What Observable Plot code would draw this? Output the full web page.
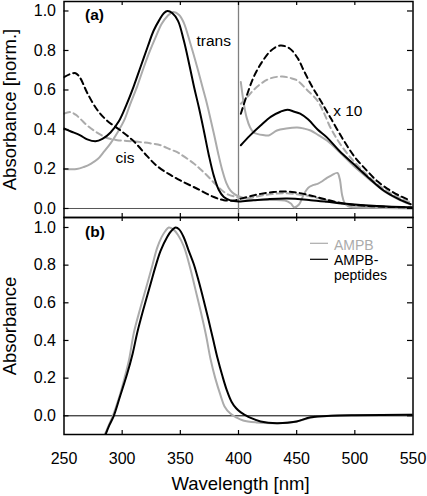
<!DOCTYPE html>
<html><head><meta charset="utf-8">
<script src="https://cdn.jsdelivr.net/npm/d3@7"></script>
<script src="https://cdn.jsdelivr.net/npm/@observablehq/plot@0.6"></script>
<style>
body{margin:0;background:#fff;}
#chart{position:relative;width:427px;height:496px;font-family:"Liberation Sans",Arial,Helvetica,sans-serif;}
#chart svg{position:absolute;left:0;overflow:visible;}
</style></head><body><div id="chart"></div>
<script>
// ---------- data ----------
const wlTicks = [250, 300, 350, 400, 450, 500, 550];
const wlInnerTicks = [300, 350, 400, 450, 500];
const absTicks = [0, 0.2, 0.4, 0.6, 0.8, 1.0];

// panel (a)
const aTransPeptide = [[250,0.405],[256,0.39],[264,0.37],[270,0.35],[277,0.34],[283,0.352],[290,0.385],[297,0.44],[304,0.53],[310,0.62],[316,0.72],[322,0.82],[327,0.90],[332,0.955],[336,0.99],[339,1.0],[343,0.99],[348,0.95],[353,0.85],[358,0.72],[362,0.61],[366,0.51],[370,0.40],[374.5,0.27],[378.8,0.165],[383,0.095],[387.4,0.058],[393,0.041],[400,0.036],[413,0.042],[425,0.047],[442,0.05],[462,0.042],[476,0.034],[490,0.025],[519,0.012],[550,0.005]];
const aTransAMPB = [[250,0.20],[261,0.20],[267,0.21],[273,0.226],[279,0.25],[284,0.285],[290,0.33],[296,0.385],[302,0.45],[307,0.53],[313,0.62],[318.6,0.715],[324,0.80],[329,0.87],[334,0.935],[339,0.975],[344,0.995],[349,0.98],[353,0.94],[358.7,0.834],[364.5,0.715],[368.8,0.62],[372,0.55],[375.5,0.465],[379,0.375],[382.5,0.28],[386,0.195],[389.5,0.13],[393,0.092],[396.5,0.073],[400,0.062],[410,0.046],[425,0.043],[440,0.04],[445,0.025],[448,0.006],[452,0.02],[456,0.07],[460,0.105],[464,0.118],[468,0.125],[472,0.138],[476,0.155],[480,0.168],[485,0.18],[487,0.15],[489,0.07],[491,0.03],[494,0.012],[500,0.006],[525,0.003],[550,0.0]];
const aCisPeptide = [[250,0.665],[255,0.68],[260,0.685],[264,0.66],[270,0.585],[278.5,0.50],[287,0.445],[298.6,0.395],[310,0.34],[321.5,0.265],[330,0.215],[340,0.175],[350,0.142],[364.5,0.10],[378.8,0.058],[387.4,0.042],[396,0.04],[402,0.05],[410,0.062],[419,0.074],[430,0.083],[439.5,0.086],[448,0.082],[456,0.074],[466,0.06],[476,0.044],[486,0.03],[496,0.02],[520,0.01],[550,0.005]];
const aCisAMPB = [[250,0.48],[255.6,0.488],[260,0.475],[264,0.454],[270,0.42],[275.6,0.395],[281,0.375],[287,0.357],[295.7,0.346],[304,0.342],[315.8,0.336],[324,0.33],[333,0.32],[341,0.30],[347.3,0.285],[354,0.26],[361.6,0.228],[367,0.20],[373,0.167],[381.7,0.114],[390,0.074],[398.7,0.057],[405,0.05],[412,0.056],[420,0.066],[430,0.074],[440,0.077],[450,0.072],[460,0.064],[470,0.05],[480,0.036],[496,0.018],[520,0.008],[550,0.004]];
// x10 magnified (> 400 nm)
const aTransPeptide10 = [[402,0.32],[410,0.37],[419,0.42],[428,0.465],[436,0.49],[442,0.5],[448,0.49],[453,0.48],[460,0.45],[468,0.40],[476,0.36],[487,0.29],[499,0.225],[512,0.155],[525,0.09],[537,0.05],[548,0.022]];
const aCisPeptide10 = [[402,0.48],[407,0.57],[413,0.665],[420,0.74],[428,0.80],[436,0.825],[444,0.81],[451,0.76],[456,0.70],[463,0.62],[470.5,0.547],[480,0.45],[490.5,0.344],[500,0.26],[510.6,0.19],[520,0.135],[530.7,0.09],[540,0.06],[548,0.04]];
const aCisAMPB10 = [[402,0.53],[407,0.56],[413,0.60],[420,0.635],[428,0.66],[437.6,0.668],[445,0.66],[450.5,0.648],[459,0.60],[467.7,0.547],[473,0.49],[479,0.41],[487,0.33],[496,0.26],[507,0.19],[519,0.125],[530,0.08],[540,0.05],[548,0.03]];
const aTransAMPB10 = [[402,0.64],[404.6,0.53],[407,0.46],[410,0.41],[413,0.385],[416,0.378],[421,0.372],[426,0.37],[433,0.395],[441,0.405],[450.5,0.41],[456,0.405],[462,0.395],[469,0.37],[476,0.344],[487,0.285],[499,0.215],[512,0.15],[525,0.088],[537,0.048],[548,0.02]];

// panel (b)
const bAMPB = [[285,-0.1],[288.5,-0.05],[292,0.0],[297,0.09],[302,0.2],[306,0.3],[310,0.44],[316,0.58],[321.5,0.70],[326,0.80],[330,0.89],[334,0.95],[337,0.98],[340,1.0],[344,0.99],[348,0.96],[353,0.90],[358.7,0.78],[363,0.67],[367.3,0.56],[372,0.43],[376,0.30],[380,0.20],[384.5,0.11],[388,0.05],[393,0.012],[398,-0.008],[404,-0.025],[415,-0.035],[433,-0.039],[450,-0.03],[462,-0.01],[480,0.0],[550,0.005]];
const bPeptides = [[285.7,-0.1],[289,-0.05],[292.8,0.0],[298,0.1],[304.3,0.223],[309,0.33],[313,0.442],[318,0.56],[324.4,0.70],[329,0.80],[333,0.876],[338.7,0.95],[342,0.98],[346,1.0],[349,0.99],[353,0.947],[357,0.88],[361.6,0.805],[366,0.71],[370,0.615],[374,0.515],[378,0.41],[382,0.305],[386,0.215],[390,0.135],[394,0.075],[398,0.04],[402,0.018],[406,0.003],[410,-0.01],[419,-0.03],[433,-0.039],[450,-0.03],[462,-0.008],[480,0.0],[500,0.003],[550,0.005]];

// annotations (data units)
const aLabels = [{text:"trans", wl:363.9, abs:0.825},{text:"cis", wl:294.3, abs:0.231},{text:"x 10", wl:481.4, abs:0.466}];
const legendLabels = [["AMPB"],["AMPB-","peptides"]];

// ---------- styles ----------
const GRAY = "#ababab", BLACK = "#000";
const seriesA = [
  {name:"aTransAMPB", data:aTransAMPB, color:GRAY, dash:null},
  {name:"aCisAMPB", data:aCisAMPB, color:GRAY, dash:"6,4"},
  {name:"aTransAMPB10", data:aTransAMPB10, color:GRAY, dash:null},
  {name:"aCisAMPB10", data:aCisAMPB10, color:GRAY, dash:"6,4"},
  {name:"aTransPeptide", data:aTransPeptide, color:BLACK, dash:null},
  {name:"aCisPeptide", data:aCisPeptide, color:BLACK, dash:"6,4"},
  {name:"aTransPeptide10", data:aTransPeptide10, color:BLACK, dash:null},
  {name:"aCisPeptide10", data:aCisPeptide10, color:BLACK, dash:"6,4"}
];
const seriesB = [
  {name:"bAMPB", data:bAMPB, color:GRAY, dash:null},
  {name:"bPeptides", data:bPeptides, color:BLACK, dash:null}
];
const legendColors = [GRAY, BLACK];

const W = 427, ML = 63.5, MR = 14.5;
const innerW = W - ML - MR;
const fontFamily = '"Liberation Sans", Arial, Helvetica, sans-serif';

function toRows(d){ return d.map(([wl, abs]) => ({wl, abs})); }
function lines(series){
  return series.map(s => Plot.line(toRows(s.data), {x:"wl", y:"abs", stroke:s.color, strokeWidth:2, strokeDasharray:s.dash, curve:"catmull-rom", clip:true}));
}
function tickMarks(innerH){
  return [
    Plot.tickX(wlInnerTicks, {x:d=>d, insetBottom: innerH-4, stroke:"black", strokeWidth:1.2}),
    Plot.tickX(wlInnerTicks, {x:d=>d, insetTop: innerH-4, stroke:"black", strokeWidth:1.2}),
    Plot.tickY(absTicks, {y:d=>d, insetRight: innerW-5, stroke:"black", strokeWidth:1.2}),
    Plot.tickY(absTicks, {y:d=>d, insetLeft: innerW-5.5, stroke:"black", strokeWidth:1.2})
  ];
}

// ---------- panel (a) ----------
const hA = 218, innerHA = 216;
const plotA = Plot.plot({
  width: W, height: hA,
  marginLeft: ML, marginRight: MR, marginTop: 1, marginBottom: 1,
  style: {fontFamily, fontSize:"16px", background:"transparent", color:"black"},
  x: {domain:[250,550], axis:null},
  y: {domain:[-0.0456, 1.048], axis:null},
  marks: [
    Plot.ruleY([0], {stroke:"#555", strokeWidth:1}),
    Plot.ruleX([400], {stroke:"#808080", strokeWidth:1.3}),
    ...lines(seriesA),
    ...tickMarks(innerHA),
    Plot.axisY(absTicks, {anchor:"left", tickSize:0, tickPadding:8, tickFormat:d3.format(".1f"), label:null, fontSize:16}),
    Plot.text(aLabels, {x:"wl", y:"abs", text:"text", textAnchor:"start", lineAnchor:"bottom", fontSize:15.5}),
    Plot.text(["(a)"], {frameAnchor:"top-left", dx:21, dy:18.4, lineAnchor:"bottom", textAnchor:"start", fontWeight:"bold", fontSize:15.5}),
    Plot.text(["Absorbance [norm.]"], {frameAnchor:"left", rotate:-90, dx:-48.5, lineAnchor:"bottom", textAnchor:"middle", fontSize:18.5}),
    Plot.frame({stroke:"black", strokeWidth:1.5})
  ]
});

// ---------- panel (b) ----------
const hB = 279, innerHB = 217;
const plotB = Plot.plot({
  width: W, height: hB,
  marginLeft: ML, marginRight: MR, marginTop: 0, marginBottom: hB - innerHB,
  style: {fontFamily, fontSize:"16px", background:"transparent", color:"black"},
  x: {domain:[250,550]},
  y: {domain:[-0.0993, 1.053]},
  marks: [
    Plot.ruleY([0], {stroke:"black", strokeWidth:1}),
    ...lines(seriesB),
    ...tickMarks(innerHB),
    Plot.axisY(absTicks, {anchor:"left", tickSize:0, tickPadding:8, tickFormat:d3.format(".1f"), label:null, fontSize:16}),
    Plot.axisX(wlTicks, {anchor:"bottom", tickSize:0, tickPadding:18.5, tickFormat:d3.format("d"), label:null, fontSize:16}),
    Plot.text(["(b)"], {frameAnchor:"top-left", dx:21, dy:19.7, lineAnchor:"bottom", textAnchor:"start", fontWeight:"bold", fontSize:15.5}),
    Plot.text(["Absorbance"], {frameAnchor:"left", rotate:-90, dx:-48.5, lineAnchor:"bottom", textAnchor:"middle", fontSize:18.5}),
    Plot.text(["Wavelength [nm]"], {frameAnchor:"bottom", dx:2, dy:55, lineAnchor:"bottom", textAnchor:"middle", fontSize:18.5}),
    Plot.frame({stroke:"black", strokeWidth:1.5})
  ]
});

const chart = document.getElementById("chart");
plotB.style.top = "217px";
plotA.style.top = "0px";
chart.appendChild(plotB);
chart.appendChild(plotA);

// legend (panel b)
const leg = d3.select(chart).append("svg").attr("width", W).attr("height", 496).style("top","0px").style("pointer-events","none");
const legY = [243.3, 259.3];
const legBase = [[249.5],[265.3, 280]];
legendLabels.forEach((lines, i) => {
  leg.append("line").attr("x1",310).attr("x2",328).attr("y1",legY[i]).attr("y2",legY[i])
     .attr("stroke", legendColors[i]).attr("stroke-width",1.2);
  lines.forEach((t, j) => {
    leg.append("text").attr("x",334).attr("y",legBase[i][j]).text(t)
       .attr("fill", legendColors[i]).attr("font-size","14px").attr("font-family", fontFamily);
  });
});
</script>
</body></html>
